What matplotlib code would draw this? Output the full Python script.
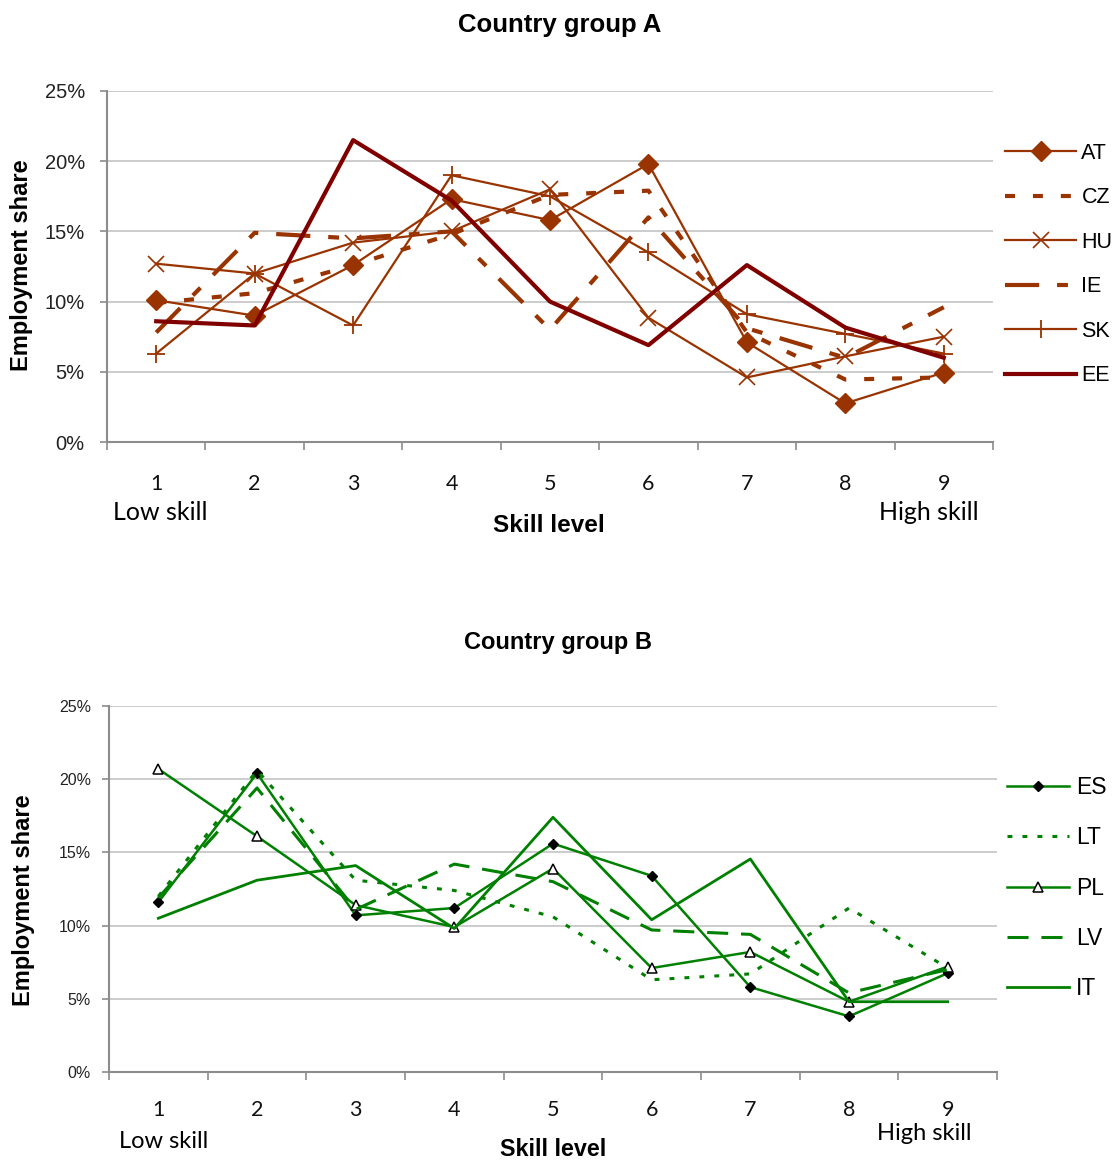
import matplotlib
matplotlib.use("Agg")
import matplotlib.pyplot as plt
from matplotlib.ticker import FixedLocator, NullFormatter

# ---------------- data ----------------
levels = [1, 2, 3, 4, 5, 6, 7, 8, 9]
level_labels = ["1", "2", "3", "4", "5", "6", "7", "8", "9"]
yticks = [0, 5, 10, 15, 20, 25]
ytick_labels = ["0%", "5%", "10%", "15%", "20%", "25%"]

# Country group A (employment share, %)
AT = [10.1, 9.0, 12.6, 17.3, 15.8, 19.8, 7.1, 2.75, 4.95]
CZ = [9.9, 10.6, 12.6, 14.8, 17.6, 17.9, 7.8, 4.45, 4.6]
HU = [12.7, 12.0, 14.2, 15.0, 18.0, 8.85, 4.6, 6.1, 7.5]
IE = [7.8, 14.9, 14.5, 15.0, 8.0, 16.0, 8.1, 6.0, 9.6]
SK = [6.3, 12.0, 8.3, 19.0, 17.5, 13.5, 9.1, 7.7, 6.3]
EE = [8.6, 8.3, 21.5, 17.2, 10.0, 6.9, 12.6, 8.15, 6.0]

# Country group B (employment share, %)
ES = [11.6, 20.4, 10.7, 11.2, 15.6, 13.4, 5.8, 3.8, 6.75]
LT = [12.0, 20.6, 13.1, 12.4, 10.6, 6.3, 6.7, 11.2, 7.1]
PL = [20.7, 16.1, 11.4, 9.9, 13.9, 7.1, 8.2, 4.8, 7.2]
LV = [11.9, 19.4, 11.1, 14.2, 13.0, 9.7, 9.4, 5.4, 7.0]
IT = [10.5, 13.1, 14.1, 9.8, 17.4, 10.4, 14.55, 4.8, 4.8]

# ---------------- styling ----------------
W, H = 1120, 1162
ARIAL = ["Liberation Sans", "DejaVu Sans"]
CALIBRI = ["Lato", "DejaVu Sans"]
BROWN = "#993300"
DARKRED = "#800000"
GREEN = "#008000"
GRID = "#c4c4c4"
SPINE = "#8c8c8c"

fig = plt.figure(figsize=(W / 100, H / 100), dpi=100)


def fx(x):
    return x / W


def fy(y):
    return 1 - y / H


def make_axes(left, right, top, bottom, ytick_fs, ytick_pad, xtick_pad):
    ax = fig.add_axes([fx(left), fy(bottom), fx(right - left), (bottom - top) / H])
    ax.set_xlim(0.5, 9.5)
    ax.set_ylim(0, 25)
    ax.set_yticks(yticks)
    ax.set_yticklabels(ytick_labels, fontfamily=ARIAL, fontsize=ytick_fs, color="#222222")
    ax.set_xticks(levels)
    ax.set_xticklabels(level_labels, fontfamily=CALIBRI, fontsize=15.5, color="#111111")
    ax.xaxis.set_minor_locator(FixedLocator([i + 0.5 for i in range(0, 10)]))
    ax.xaxis.set_minor_formatter(NullFormatter())
    ax.tick_params(axis="x", which="major", length=0, pad=xtick_pad)
    ax.tick_params(axis="x", which="minor", length=6, width=1.2, color=SPINE, direction="out")
    ax.tick_params(axis="y", which="major", length=5, width=1.2, color=SPINE, pad=ytick_pad)
    for s in ["top", "right"]:
        ax.spines[s].set_visible(False)
    for s in ["left", "bottom"]:
        ax.spines[s].set_color(SPINE)
        ax.spines[s].set_linewidth(1.5)
    ax.grid(axis="y", color=GRID, lw=1.2)
    ax.set_axisbelow(True)
    return ax


# ---------------- top chart ----------------
ax1 = make_axes(107, 993, 91, 442, 14.5, 11, 23)
ax1.plot(levels, AT, color=BROWN, lw=1.6, marker="D", ms=10, mec=BROWN, mfc=BROWN, label="AT")
ax1.plot(levels, CZ, color=BROWN, lw=3, dashes=(2.4, 4.3), dash_capstyle="butt", label="CZ")
ax1.plot(levels, HU, color=BROWN, lw=1.6, marker="x", ms=11, mew=1.2, label="HU")
ax1.plot(levels, IE, color=BROWN, lw=3, dashes=(8.2, 4.3, 2.6, 4.3), dash_capstyle="butt", label="IE")
ax1.plot(levels, SK, color=BROWN, lw=1.6, marker="+", ms=13, mew=1.3, label="SK")
ax1.plot(levels, EE, color=DARKRED, lw=3, label="EE")
leg1 = ax1.legend(loc="upper left", bbox_to_anchor=(fx(1005), fy(143)),
                  bbox_transform=fig.transFigure, frameon=False, borderpad=0,
                  borderaxespad=0, handlelength=3.3, handletextpad=0.25,
                  labelspacing=1.09, prop={"family": ARIAL, "size": 15.5})

fig.text(fx(560), fy(25), "Country group A", ha="center", va="center",
         fontfamily=ARIAL, fontweight="bold", fontsize=18.5)
fig.text(fx(22), fy(265), "Employment share", rotation=90, ha="center", va="center",
         fontfamily=ARIAL, fontweight="bold", fontsize=17)
fig.text(fx(160), fy(513), "Low skill", ha="center", va="center",
         fontfamily=CALIBRI, fontsize=18)
fig.text(fx(929), fy(513), "High skill", ha="center", va="center",
         fontfamily=CALIBRI, fontsize=18)
fig.text(fx(549), fy(525), "Skill level", ha="center", va="center",
         fontfamily=ARIAL, fontweight="bold", fontsize=17.5)

# ---------------- bottom chart ----------------
ax2 = make_axes(109, 997, 706, 1072, 11.5, 8, 20)
ax2.plot(levels, ES, color=GREEN, lw=1.8, marker="D", ms=5.5, mec="black", mfc="black", label="ES")
ax2.plot(levels, LT, color=GREEN, lw=2.2, dashes=(1.6, 3.3), dash_capstyle="butt", label="LT")
ax2.plot(levels, PL, color=GREEN, lw=1.8, marker="^", ms=7, mec="black", mfc="white", mew=1.1, label="PL")
ax2.plot(levels, LV, color=GREEN, lw=2.2, dashes=(6.9, 4.2), dash_capstyle="butt", label="LV")
ax2.plot(levels, IT, color=GREEN, lw=2.0, label="IT")
leg2 = ax2.legend(loc="upper left", bbox_to_anchor=(fx(1007), fy(776)),
                  bbox_transform=fig.transFigure, frameon=False, borderpad=0,
                  borderaxespad=0, handlelength=2.7, handletextpad=0.3,
                  labelspacing=1.19, prop={"family": ARIAL, "size": 16.5})

fig.text(fx(558), fy(642), "Country group B", ha="center", va="center",
         fontfamily=ARIAL, fontweight="bold", fontsize=17)
fig.text(fx(24), fy(900), "Employment share", rotation=90, ha="center", va="center",
         fontfamily=ARIAL, fontweight="bold", fontsize=17)
fig.text(fx(164), fy(1141), "Low skill", ha="center", va="center",
         fontfamily=CALIBRI, fontsize=17)
fig.text(fx(924), fy(1133), "High skill", ha="center", va="center",
         fontfamily=CALIBRI, fontsize=17)
fig.text(fx(553), fy(1150), "Skill level", ha="center", va="center",
         fontfamily=ARIAL, fontweight="bold", fontsize=16.8)

fig.savefig("out.png", dpi=100)
